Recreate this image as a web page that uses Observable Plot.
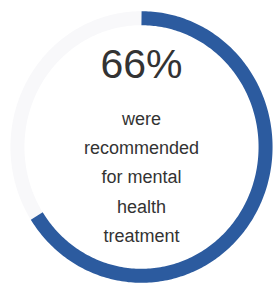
<!DOCTYPE html>
<html>
<head>
<meta charset="utf-8">
<script src="https://cdn.jsdelivr.net/npm/d3@7"></script>
<script src="https://cdn.jsdelivr.net/npm/@observablehq/plot@0.6"></script>
<style>
  html, body { margin: 0; padding: 0; background: #ffffff; }
  #chart svg { display: block; }
</style>
</head>
<body>
<div id="chart"></div>
<script>
// Data
const percentValue = [66];
const headline = ["66%"];
const bodyLines = ["were", "recommended", "for mental", "health", "treatment"];
const segmentNames = ["recommended", "not recommended"];
const segmentColors = ["#2c5b9f", "#f8f8fa"];

// Build arc paths (geometry derived from the value)
const share = percentValue[0] / 100;
const rc = 0.947; // centreline radius in scale units
function arcPoints(from, to, name) {
  const n = Math.max(2, Math.round((to - from) * 360));
  return d3.range(n + 1).map(i => {
    const t = from + (to - from) * i / n;
    const a = t * 2 * Math.PI;
    return {x: rc * Math.sin(a), y: rc * Math.cos(a), seg: name};
  });
}
const track = arcPoints(share, 1, segmentNames[1]);
const arc = arcPoints(0, share, segmentNames[0]);

const chart = Plot.plot({
  width: 273,
  height: 283,
  margin: 0,
  x: {domain: [-1, 1], range: [10, 272], axis: null},
  y: {domain: [-1, 1], range: [282.5, 10.5], axis: null},
  color: {domain: segmentNames, range: segmentColors},
  marks: [
    Plot.line(track, {x: "x", y: "y", stroke: "seg", strokeWidth: 14, strokeLinecap: "butt"}),
    Plot.line(arc, {x: "x", y: "y", stroke: "seg", strokeWidth: 14, strokeLinecap: "butt"}),
    Plot.text(headline, {
      x: () => 0, y: () => 0.504, text: d => d,
      fontSize: 41, fill: "#333333", fontFamily: "Liberation Sans, Arial, sans-serif",
      lineAnchor: "bottom", textAnchor: "middle"
    }),
    Plot.text([bodyLines.join("\n")], {
      x: () => 0, y: () => 0.316, text: d => d,
      fontSize: 18, lineHeight: 1.625, fill: "#333333",
      fontFamily: "Liberation Sans, Arial, sans-serif",
      lineAnchor: "top", textAnchor: "middle"
    })
  ]
});
document.getElementById("chart").append(chart);
</script>
</body>
</html>
